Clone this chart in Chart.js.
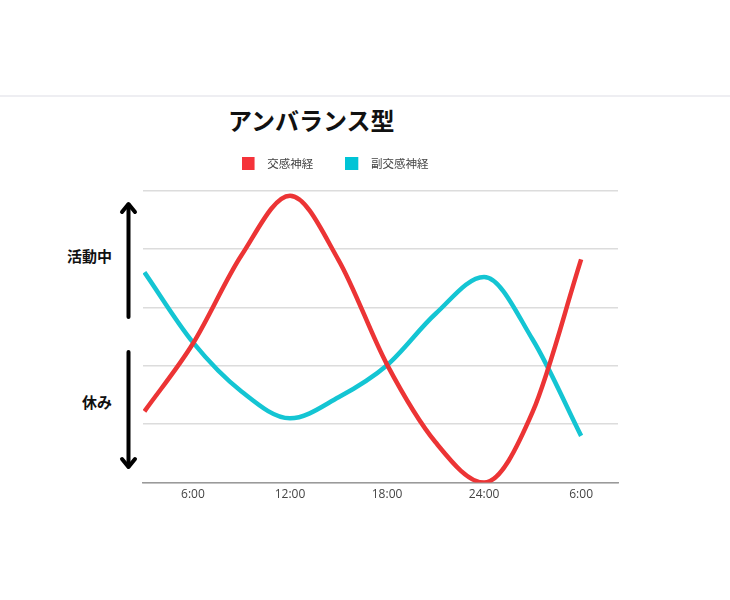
<!DOCTYPE html>
<html lang="ja">
<head>
<meta charset="UTF-8">
<title>アンバランス型</title>
<script src="https://cdn.jsdelivr.net/npm/chart.js@4.4.1/dist/chart.umd.min.js"></script>
<style>
  html, body { margin: 0; padding: 0; background: #fff; }
  body { width: 730px; height: 600px; position: relative; overflow: hidden; font-family: "Noto Sans CJK JP", sans-serif; }
  .topline { position: absolute; left: 0; top: 95px; width: 730px; height: 2px; background: #eeeef2; }
  .title { position: absolute; left: 228px; top: 103px; font-size: 24px; font-weight: 700; color: #111; line-height: 34px; }
  .side { position: absolute; font-size: 15px; font-weight: 700; color: #111; line-height: 20px; }
  #wrap { position: absolute; left: 0; top: 0; width: 670px; height: 600px; }
  svg { position: absolute; left: 0; top: 0; }
</style>
</head>
<body>
<div class="topline"></div>
<div class="title">アンバランス型</div>
<div class="side" style="left:67px; top:246px;">活動中</div>
<div class="side" style="left:82px; top:392px;">休み</div>
<svg width="200" height="600">
  <g stroke="#000" stroke-width="4" fill="none" stroke-linecap="round" stroke-linejoin="round">
    <line x1="128.5" y1="317" x2="128.5" y2="205"/>
    <polyline points="122,212 128.5,204 135,212"/>
    <line x1="128.5" y1="352" x2="128.5" y2="466"/>
    <polyline points="122,459 128.5,467 135,459"/>
  </g>
</svg>
<div id="wrap"><canvas id="chart"></canvas></div>
<script>
  // x positions: 0 = 6:00, 1 = 12:00, ... each step is 6 hours
  var hours = [-0.5, 0, 0.5, 1, 1.5, 2, 2.5, 3, 3.5, 4];
  var tickLabels = ['6:00', '12:00', '18:00', '24:00', '6:00'];
  var sympathetic = [1.22, 2.38, 3.89, 4.91, 3.81, 2.02, 0.69, 0.0, 1.21, 3.82];
  var parasympathetic = [3.60, 2.40, 1.56, 1.10, 1.46, 2.01, 2.89, 3.52, 2.45, 0.80];

  function toPoints(ys) {
    var pts = [];
    for (var i = 0; i < hours.length; i++) {
      pts.push({ x: hours[i], y: ys[i] });
    }
    return pts;
  }

  // legend swatch: square on the left, blank space on the right for the gap before the text
  function swatch(color) {
    var c = document.createElement('canvas');
    c.width = 20;
    c.height = 13;
    var g = c.getContext('2d');
    g.fillStyle = color;
    g.fillRect(0, 0, 13, 13);
    return c;
  }

  var ctx = document.getElementById('chart').getContext('2d');
  var chart = new Chart(ctx, {
    type: 'line',
    data: {
      datasets: [{
        label: '交感神経',
        data: toPoints(sympathetic),
        xAxisID: 'x',
        yAxisID: 'y',
        borderColor: '#ec3435',
        backgroundColor: '#f5333a',
        borderWidth: 4.5,
        pointRadius: 0,
        pointStyle: swatch('#f5333a'),
        cubicInterpolationMode: 'monotone',
        fill: false
      }, {
        label: '副交感神経',
        data: toPoints(parasympathetic),
        xAxisID: 'x',
        yAxisID: 'y',
        borderColor: '#14c5d3',
        backgroundColor: '#00c4d6',
        borderWidth: 4.5,
        pointRadius: 0,
        pointStyle: swatch('#00c4d6'),
        cubicInterpolationMode: 'monotone',
        fill: false
      }]
    },
    options: {
      responsive: true,
      maintainAspectRatio: false,
      animation: false,
      layout: { padding: { left: 0, right: 0, top: 126, bottom: 93 } },
      plugins: {
        tooltip: { enabled: false },
        legend: {
          display: true,
          position: 'top',
          labels: {
            usePointStyle: true,
            pointStyleWidth: 20,
            padding: 32,
            color: '#444',
            font: { family: '"Noto Sans CJK JP", sans-serif', size: 11.5 }
          }
        }
      },
      scales: {
        x: {
          type: 'linear',
          min: -0.515,
          max: 4.38,
          grid: { display: false, drawTicks: false },
          border: { display: true, color: '#9a9a9a', width: 1.5 },
          afterBuildTicks: function(axis) {
            axis.ticks = tickLabels.map(function(t, i) { return { value: i }; });
          },
          ticks: {
            padding: 5,
            color: '#444',
            font: { family: '"Open Sans", sans-serif', size: 12 },
            callback: function(v) { return tickLabels[v]; }
          }
        },
        spacer: {
          type: 'linear',
          position: 'top',
          display: true,
          grid: { display: false, drawTicks: false },
          border: { display: false },
          ticks: { display: false },
          afterFit: function(axis) { axis.height = 11; }
        },
        y: {
          min: 0,
          max: 5,
          grid: { color: '#dcdcdc', lineWidth: 1.5, drawTicks: false },
          border: { display: false },
          ticks: { display: false, stepSize: 1 },
          afterFit: function(axis) { axis.width = 143; }
        },
        spacerRight: {
          type: 'linear',
          position: 'right',
          display: true,
          grid: { display: false, drawTicks: false },
          border: { display: false },
          ticks: { display: false },
          afterFit: function(axis) { axis.width = 52; }
        }
      }
    }
  });
</script>
</body>
</html>
